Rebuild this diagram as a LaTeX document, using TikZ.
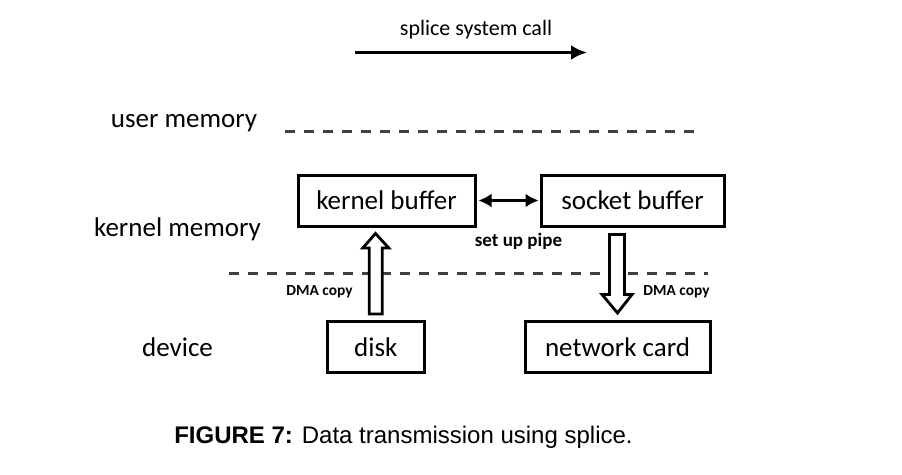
\documentclass[tikz,border=0pt]{standalone}
\usepackage{fontspec}
\setmainfont{Carlito}
\newfontfamily\capfont{Liberation Sans}
\usetikzlibrary{arrows.meta,calc}
\begin{document}
\begin{tikzpicture}[x=1pt,y=-1pt,
  box/.style={draw=black,line width=3pt,minimum height=51pt,inner sep=0pt,font=\fontsize{27}{30}\selectfont},
  lbl/.style={font=\fontsize{27}{30}\selectfont,inner sep=0pt,anchor=base},
  small/.style={font=\bfseries\fontsize{15.4}{17}\selectfont,inner sep=0pt,anchor=base},
  dash line/.style={draw=black!75,line width=3pt,dash pattern=on 10pt off 9pt},
  blockarrow/.style={draw=black,line width=2.8pt,fill=white,line join=miter}]
\useasboundingbox (0,0) rectangle (902,474);
% top arrow
\coordinate (ta) at (355,52.5);
\coordinate (tb) at (587,52.5);
\node[font=\fontsize{22}{24}\selectfont,inner sep=0pt,anchor=base] (call) at (476,35) {splice system call};
\draw[line width=3.2pt,-{Latex[length=16pt,width=15pt]}] (ta) -- (tb);
% labels
\node[lbl] (um) at (184,127.5) {user memory};
\node[lbl] (km) at (177.5,236.5) {kernel memory};
\node[lbl] (dev) at (177.5,356.5) {device};
% dashed lines
\coordinate (d1a) at (285,131);
\coordinate (d1b) at (702,131);
\draw[dash line] (d1a) -- (d1b);
\coordinate (d2a) at (229,273);
\coordinate (d2b) at (708,273);
\draw[dash line] (d2a) -- (d2b);
% boxes
\node[box,minimum width=177pt] (kb) at (386.5,200.5) {kernel buffer};
\node[box,minimum width=183pt] (sb) at (632.5,200.5) {socket buffer};
\node[box,minimum width=97pt] (disk) at (375.8,347) {disk};
\node[box,minimum width=185pt] (nc) at (617.5,347) {network card};
% double arrow
\draw[line width=2.8pt,{Latex[length=13pt,width=14pt]}-{Latex[length=13pt,width=14pt]}] ($(kb.east)+(2,0)$) -- ($(sb.west)+(-1,0)$);
\node[font=\bfseries\fontsize{19}{21}\selectfont,inner sep=0pt,anchor=base] (pipe) at (518.5,246) {set up pipe};
% up block arrow
\draw[blockarrow]
  ($(disk.north)+(-6.5,-6)$) -- ($(disk.north)+(-6.5,-72)$) -- ($(disk.north)+(-13,-72)$)
  -- ($(kb.south)+(-11,6)$) -- ($(disk.north)+(13,-72)$) -- ($(disk.north)+(6.5,-72)$)
  -- ($(disk.north)+(6.5,-6)$) -- cycle;
% down block arrow
\draw[blockarrow]
  ($(sb.south)+(-23,7)$) -- ($(sb.south)+(-23,67)$) -- ($(sb.south)+(-30.5,67)$)
  -- ($(nc.north)+(0,-7)$) -- ($(sb.south)+(-0.5,67)$) -- ($(sb.south)+(-8,67)$)
  -- ($(sb.south)+(-8,7)$) -- cycle;
\node[small] (dma1) at (319.5,295) {DMA copy};
\node[small] (dma2) at (676.5,295) {DMA copy};
% caption
\node[font=\capfont\fontsize{24}{28}\selectfont,inner sep=0pt,anchor=base] (cap) at (403.5,443) {\textbf{FIGURE 7:} Data transmission using splice.};
\end{tikzpicture}
\end{document}
